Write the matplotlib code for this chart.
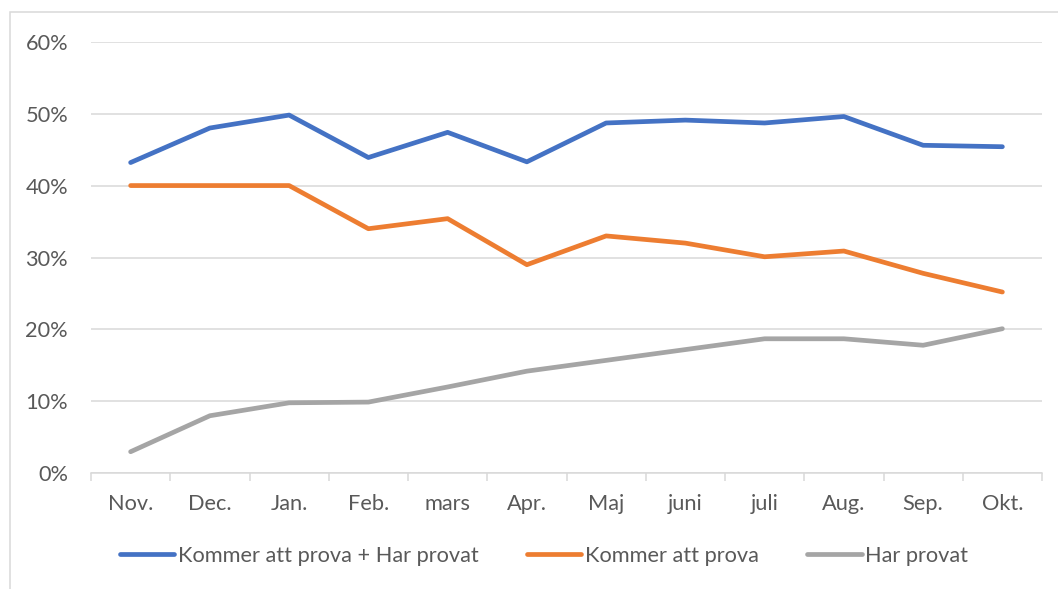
import matplotlib
matplotlib.use("Agg")
import matplotlib.pyplot as plt
from matplotlib.patches import Rectangle

plt.rcParams['font.family'] = ['Lato', 'DejaVu Sans']

months = ["Nov.", "Dec.", "Jan.", "Feb.", "mars", "Apr.", "Maj", "juni", "juli", "Aug.", "Sep.", "Okt."]
kommer_plus_har = [43.2, 48.0, 49.8, 43.9, 47.4, 43.3, 48.7, 49.1, 48.7, 49.6, 45.6, 45.4]
kommer = [40.0, 40.0, 40.0, 34.0, 35.4, 29.0, 33.0, 32.0, 30.1, 30.9, 27.8, 25.2]
har = [3.0, 8.0, 9.8, 9.9, 12.0, 14.2, 15.7, 17.2, 18.7, 18.7, 17.8, 20.1]
labels = ["Kommer att prova + Har provat", "Kommer att prova", "Har provat"]
colors = ["#4472C4", "#ED7D31", "#A5A5A5"]

W, H = 1058, 589
fig = plt.figure(figsize=(W / 100, H / 100), dpi=100)
ax = fig.add_axes([91 / W, 1 - 473.3 / H, (1042 - 91) / W, (473.3 - 41.7) / H])

x = list(range(len(months)))
for vals, lab, c in zip([kommer_plus_har, kommer, har], labels, colors):
    ax.plot(x, vals, color=c, lw=3.4, label=lab, solid_capstyle='round', solid_joinstyle='round')

ax.set_xlim(-0.5, len(months) - 0.5)
ax.set_ylim(0, 60)
ax.set_yticks(range(0, 61, 10))
ax.set_yticklabels([f"{v}%" for v in range(0, 61, 10)])
ax.set_xticks(x)
ax.set_xticklabels(months)
ax.set_xticks([i - 0.5 for i in range(len(months) + 1)], minor=True)

fs = 15.7
ax.grid(axis='y', color='#D9D9D9', lw=1.1)
ax.set_axisbelow(True)
for s in ['top', 'right', 'left']:
    ax.spines[s].set_visible(False)
ax.spines['bottom'].set_color('#D9D9D9')
ax.spines['bottom'].set_linewidth(1.1)
ax.tick_params(axis='y', length=0, pad=16.5, labelsize=fs, labelcolor='#595959')
ax.tick_params(axis='x', which='major', length=0, pad=15, labelsize=fs, labelcolor='#595959')
ax.tick_params(axis='x', which='minor', length=6, color='#D9D9D9', width=1.1)

fig.legend(loc='center', bbox_to_anchor=(544 / W, 1 - 556 / H), ncol=3, frameon=False,
           fontsize=fs, labelcolor='#595959', handlelength=2.5, handletextpad=0.18,
           columnspacing=2.2)

fig.patches.append(Rectangle((10 / W, -0.1), 1.2, 1 - 12 / H + 0.1, transform=fig.transFigure,
                             fill=False, edgecolor='#D9D9D9', lw=1.1))

fig.savefig("out.png", dpi=100)
